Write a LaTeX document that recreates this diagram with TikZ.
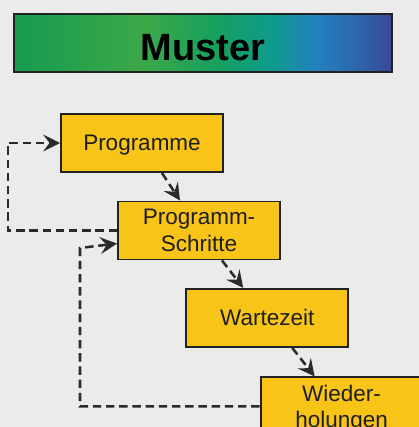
\documentclass[tikz,border=0pt]{standalone}
\usepackage{fontspec}
\setmainfont{Liberation Sans}
\usetikzlibrary{arrows.meta, positioning}
\definecolor{cbg}{HTML}{EBEBEB}
\definecolor{cyellow}{HTML}{F9C418}
\definecolor{cline}{HTML}{222222}
\definecolor{ctext}{HTML}{1E1E1E}
\definecolor{cdash}{HTML}{2A2A2A}
\definecolor{tgreen}{HTML}{169B50}
\definecolor{tlime}{HTML}{3CA848}
\definecolor{tmint}{HTML}{16A05F}
\definecolor{tteal}{HTML}{0F9B8C}
\definecolor{tblue}{HTML}{2380BE}
\definecolor{tdeep}{HTML}{2C68AE}
\definecolor{tnavy}{HTML}{3A4896}
\pgfdeclarehorizontalshading{muster}{100bp}{color(0bp)=(tgreen); color(25bp)=(tgreen);
  color(42bp)=(tlime); color(52bp)=(tmint); color(59bp)=(tteal); color(65bp)=(tblue);
  color(70bp)=(tdeep); color(75bp)=(tnavy); color(100bp)=(tnavy)}
\tikzset{
  every picture/.style={font=\fontsize{16}{19}\selectfont, line width=1.4pt},
  stepbox/.style={draw=cline, fill=cyellow, text=ctext, align=center, inner sep=2pt,
                  text depth=0pt, minimum width=4.05cm, minimum height=1.45cm},
  flow/.style={-{Stealth[length=4.2mm, width=4.2mm, inset=1.6mm]}, draw=cdash,
               dash pattern=on 2.1mm off 1.2mm, line width=1.8pt},
  titlebar/.style={draw=cline, shade, shading=muster, text=black, inner sep=0pt,
                   text height=0.86cm, text depth=0pt,
                   minimum width=9.45cm, minimum height=1.45cm,
                   font=\fontsize{27}{32}\selectfont\bfseries},
}
\begin{document}
\begin{tikzpicture}
  \path[fill=cbg, use as bounding box] (0,0) rectangle (10.475,-10.675);
  \clip (0,0) rectangle (10.475,-10.675);
  \node[titlebar] (title) at (5.075,-1.075) {Muster};
  \node[stepbox] (prog) at (3.55,-3.575) {Programme};
  \node[stepbox] (steps) at (4.975,-5.7625) {Programm-\\Schritte};
  \node[stepbox] (wait) at (6.68,-7.945) {Wartezeit};
  \node[stepbox] (rep) at (8.54,-10.16) {Wieder-\\holungen};
  \coordinate (back1) at (0.2,-3.575);
  \coordinate (back2) at (2.0,-6.2);
  \draw[flow] ([xshift=5mm]prog.south) -- ([xshift=-4.75mm]steps.north);
  \draw[flow] ([xshift=5.75mm]steps.south) -- ([xshift=-6mm]wait.north);
  \draw[flow] ([xshift=6.25mm]wait.south) -- ([xshift=-6.75mm]rep.north);
  \draw[flow] (steps.west) -| (back1) -- (prog.west);
  \draw[flow] (rep.west) -| (back2) -- ([yshift=-3.25mm]steps.west);
\end{tikzpicture}
\end{document}
